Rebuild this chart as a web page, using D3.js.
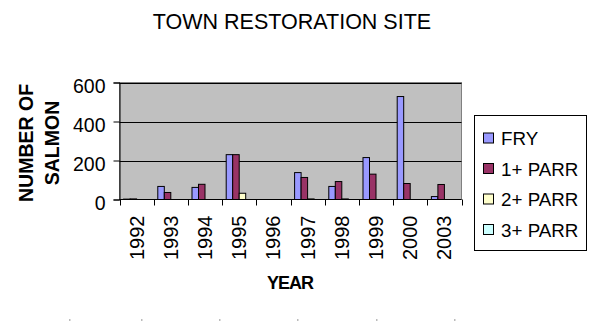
<!DOCTYPE html>
<html><head><meta charset="utf-8">
<script src="https://cdn.jsdelivr.net/npm/d3@7"></script>
<style>body{margin:0;background:#fff}svg{display:block;font-family:"Liberation Sans",Arial,sans-serif}</style>
</head><body>
<script>
const years = ["1992","1993","1994","1995","1996","1997","1998","1999","2000","2003"];
const seriesNames = ["FRY","1+ PARR","2+ PARR","3+ PARR"];
const fry     = [2, 67, 62, 230, 0, 138, 67, 215, 528, 15];
const parr1   = [3, 36, 78, 230, 0, 113, 92, 130, 82, 77];
const parr2   = [0, 0, 0, 32, 0, 3, 3, 0, 0, 0];
const parr3   = [0, 0, 0, 0, 0, 0, 0, 0, 0, 0];
const yTicks  = [0, 200, 400, 600];
const colors  = ["#9999FF","#993366","#FFFFCC","#CCFFFF"];
const allSeries = [fry, parr1, parr2, parr3];

const W = 591, H = 322;
const svg = d3.select("body").append("svg").attr("width", W).attr("height", H);
const L = 119.5, R = 461.5, T = 82.5, B = 199.5;

const x0 = d3.scaleBand().domain(years).range([L, R]).paddingInner(0).paddingOuter(0);
const x1 = d3.scaleBand().domain(seriesNames).range([0, x0.bandwidth()]).paddingInner(0).paddingOuter(0.63);
const y = d3.scaleLinear().domain([0, 600]).range([B, T]);

svg.append("rect").attr("x", L).attr("y", T).attr("width", R - L).attr("height", B - T)
  .attr("fill", "#C0C0C0").attr("stroke", "#808080").attr("stroke-width", 1);

// gridlines
svg.append("g").selectAll("line").data(yTicks.filter(d => d > 0)).join("line")
  .attr("x1", L).attr("x2", R).attr("y1", d => Math.round(y(d)) + 0.5).attr("y2", d => Math.round(y(d)) + 0.5)
  .attr("stroke", "#000").attr("stroke-width", 1);

// bars
const g = svg.append("g");
allSeries.forEach((vals, si) => {
  g.append("g").selectAll("rect").data(vals.map((v, i) => ({v, yr: years[i]})).filter(d => d.v > 0)).join("rect")
    .attr("x", d => x0(d.yr) + x1(seriesNames[si]))
    .attr("width", x1.bandwidth())
    .attr("y", d => y(d.v))
    .attr("height", d => B - y(d.v))
    .attr("fill", colors[si]).attr("stroke", "#000").attr("stroke-width", 1);
});

// y axis
const yAxis = d3.axisLeft(y).tickValues(yTicks).tickSize(6).tickPadding(8);
const ya = svg.append("g").attr("transform", `translate(${L},0)`).call(yAxis);
ya.selectAll("text").attr("font-size", 19.5).attr("fill", "#000").attr("dy", "0.5em")
  .attr("font-family", "Liberation Sans, Arial, sans-serif");
ya.selectAll("line,path").attr("stroke", "#000");

// x axis with ticks at boundaries
const xa = svg.append("g").attr("transform", `translate(0,${B})`);
xa.append("line").attr("x1", L).attr("x2", R).attr("y1", 0).attr("y2", 0).attr("stroke", "#000");
const bounds = years.map(yr => x0(yr)).concat([R]);
xa.selectAll("line.t").data(bounds).join("line").attr("class", "t")
  .attr("x1", d => Math.round(d) + 0.5).attr("x2", d => Math.round(d) + 0.5).attr("y1", 0).attr("y2", 6).attr("stroke", "#000");
xa.selectAll("text").data(years).join("text")
  .attr("transform", d => `translate(${x0(d) + x0.bandwidth() / 2 + 7},${16}) rotate(-90)`)
  .attr("text-anchor", "end").attr("font-size", 20).attr("fill", "#000").text(d => d);

// titles
svg.append("text").attr("x", 292).attr("y", 28.5).attr("text-anchor", "middle")
  .attr("font-size", 21.5).attr("fill", "#000").text("TOWN RESTORATION SITE");
svg.append("text").attr("x", 290).attr("y", 289).attr("text-anchor", "middle")
  .attr("font-size", 18).attr("font-weight", "bold").attr("letter-spacing", -1).attr("fill", "#000").text("YEAR");
const yt = svg.append("text").attr("transform", "translate(33,143) rotate(-90)").attr("text-anchor", "middle")
  .attr("font-size", 19.5).attr("font-weight", "bold").attr("fill", "#000");
yt.append("tspan").attr("x", 0).attr("dy", 0).text("NUMBER OF");
yt.append("tspan").attr("x", 0).attr("dy", 26).text("SALMON");

// legend
const lg = svg.append("g");
lg.append("rect").attr("x", 474.5).attr("y", 115.5).attr("width", 112).attr("height", 135)
  .attr("fill", "#fff").attr("stroke", "#000").attr("stroke-width", 1);
seriesNames.forEach((s, i) => {
  const cy = 138 + i * 30.5;
  lg.append("rect").attr("x", 483.5).attr("y", cy - 5).attr("width", 10).attr("height", 10)
    .attr("fill", colors[i]).attr("stroke", "#000");
  lg.append("text").attr("x", 501).attr("y", cy + 7).attr("font-size", 18.8).attr("fill", "#000").text(s);
});

// faint footer marks
const marks = [69, 141, 219, 297, 376, 454];
svg.append("g").selectAll("rect").data(marks).join("rect")
  .attr("x", d => d).attr("y", 319).attr("width", 1.5).attr("height", 2).attr("fill", "#bbb");
</script>
</body></html>
